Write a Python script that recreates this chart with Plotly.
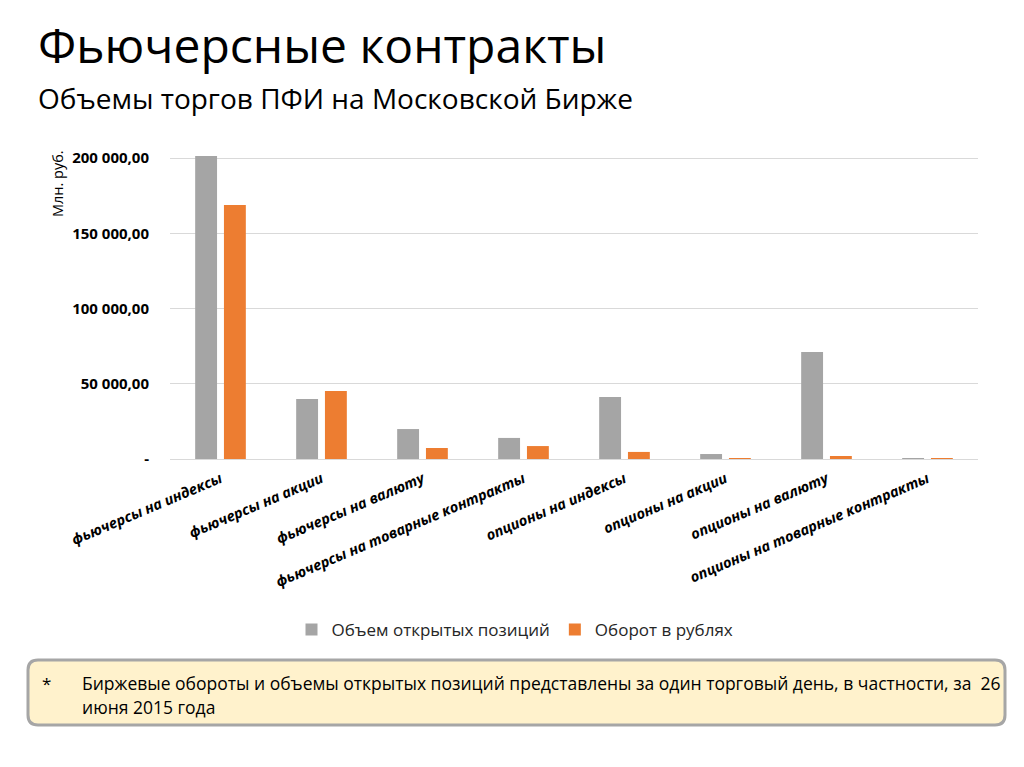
import plotly.graph_objects as go

categories = [
    "фьючерсы на индексы",
    "фьючерсы на акции",
    "фьючерсы на валюту",
    "фьючерсы на товарные контракты",
    "опционы на индексы",
    "опционы на акции",
    "опционы на валюту",
    "опционы на товарные контракты",
]
open_interest = [201300, 39900, 19900, 14000, 41200, 3300, 71100, 200]
turnover_rub = [168800, 45200, 7300, 8600, 4700, 300, 2000, 100]
series_names = ["Объем открытых позиций", "Оборот в рублях"]
y_tickvals = [0, 50000, 100000, 150000, 200000]
y_ticktext = ["-", "50 000,00", "100 000,00", "150 000,00", "200 000,00"]

OFF = 8  # page body margin
W, H = 1024 - OFF, 767 - OFF
# plot area in screen pixels
PX0, PX1, PY0, PY1 = 170, 978, 150, 459
L, R, T, B = PX0 - OFF, W - (PX1 - OFF), PY0 - OFF, H - (PY1 - OFF)
PW, PH = W - L - R, H - T - B


def px(x):
    return (x - OFF - L) / PW


def py(y):
    return (H - B - (y - OFF)) / PH


FONT = "Open Sans"

fig = go.Figure()
fig.add_trace(go.Bar(x=categories, y=open_interest, name=series_names[0],
                     marker=dict(color="#A5A5A5", line=dict(width=0))))
fig.add_trace(go.Bar(x=categories, y=turnover_rub, name=series_names[1],
                     marker=dict(color="#ED7D31", line=dict(width=0))))

ymax = 200000 * PH / 301.0

fig.update_layout(
    width=W, height=H,
    margin=dict(l=L, r=R, t=T, b=B, autoexpand=False),
    paper_bgcolor="white", plot_bgcolor="white",
    barmode="group", bargap=0.43, bargroupgap=0.24,
    font=dict(family=FONT, color="#000000"),
    showlegend=True,
    legend=dict(orientation="h", x=px(515), xanchor="center", y=py(630), yanchor="middle",
                font=dict(size=17, color="#262626", family=FONT), itemwidth=30,
                traceorder="normal", itemsizing="constant"),
    xaxis=dict(tickangle=-23, showgrid=False, showline=False, zeroline=False,
               ticklabelstandoff=8,
               tickfont=dict(size=14.5, family=FONT, weight="bold", style="italic", color="#000"),
               ticks=""),
    yaxis=dict(range=[0, ymax], tickvals=y_tickvals, ticktext=y_ticktext,
               showgrid=True, gridcolor="#D9D9D9", gridwidth=1,
               zeroline=True, zerolinecolor="#D9D9D9", zerolinewidth=1,
               showline=False, ticks="", ticklabelstandoff=20,
               tickfont=dict(size=15, family=FONT, weight="bold", color="#000")),
)

annotations = [
    dict(text="Фьючерсные контракты", x=px(36), y=py(44), xanchor="left", yanchor="middle",
         font=dict(size=48, family=FONT, color="#000"), showarrow=False, xref="paper", yref="paper"),
    dict(text="Объемы торгов ПФИ на Московской Бирже", x=px(36), y=py(98), xanchor="left",
         yanchor="middle", font=dict(size=28, family=FONT, color="#000"),
         showarrow=False, xref="paper", yref="paper"),
    dict(text="Млн. руб.", x=px(57), y=py(183), xanchor="center", yanchor="middle", textangle=-90,
         font=dict(size=14.5, family=FONT, color="#000"), showarrow=False, xref="paper", yref="paper"),
    dict(text="*", x=px(40), y=py(683), xanchor="left", yanchor="middle",
         font=dict(size=17, family=FONT, color="#000"), showarrow=False, xref="paper", yref="paper"),
    dict(text="Биржевые обороты и объемы открытых позиций представлены за один торговый день, в частности, за  26",
         x=px(80), y=py(683), xanchor="left", yanchor="middle",
         font=dict(size=17.5, family=FONT, color="#000"), showarrow=False, xref="paper", yref="paper"),
    dict(text="июня 2015 года", x=px(80), y=py(707), xanchor="left", yanchor="middle",
         font=dict(size=17.5, family=FONT, color="#000"), showarrow=False, xref="paper", yref="paper"),
]
fig.update_layout(annotations=annotations)

# rounded note box
x0, x1, y0, y1, r = 28, 1005, 660, 725, 10
pts = [
    f"M {px(x0 + r)} {py(y0)}",
    f"L {px(x1 - r)} {py(y0)}",
    f"Q {px(x1)} {py(y0)} {px(x1)} {py(y0 + r)}",
    f"L {px(x1)} {py(y1 - r)}",
    f"Q {px(x1)} {py(y1)} {px(x1 - r)} {py(y1)}",
    f"L {px(x0 + r)} {py(y1)}",
    f"Q {px(x0)} {py(y1)} {px(x0)} {py(y1 - r)}",
    f"L {px(x0)} {py(y0 + r)}",
    f"Q {px(x0)} {py(y0)} {px(x0 + r)} {py(y0)}",
    "Z",
]
fig.add_shape(type="path", path=" ".join(pts), xref="paper", yref="paper",
              fillcolor="#FFF2CC", line=dict(color="#A6A6A6", width=3), layer="below")

fig.write_html("out.html")
